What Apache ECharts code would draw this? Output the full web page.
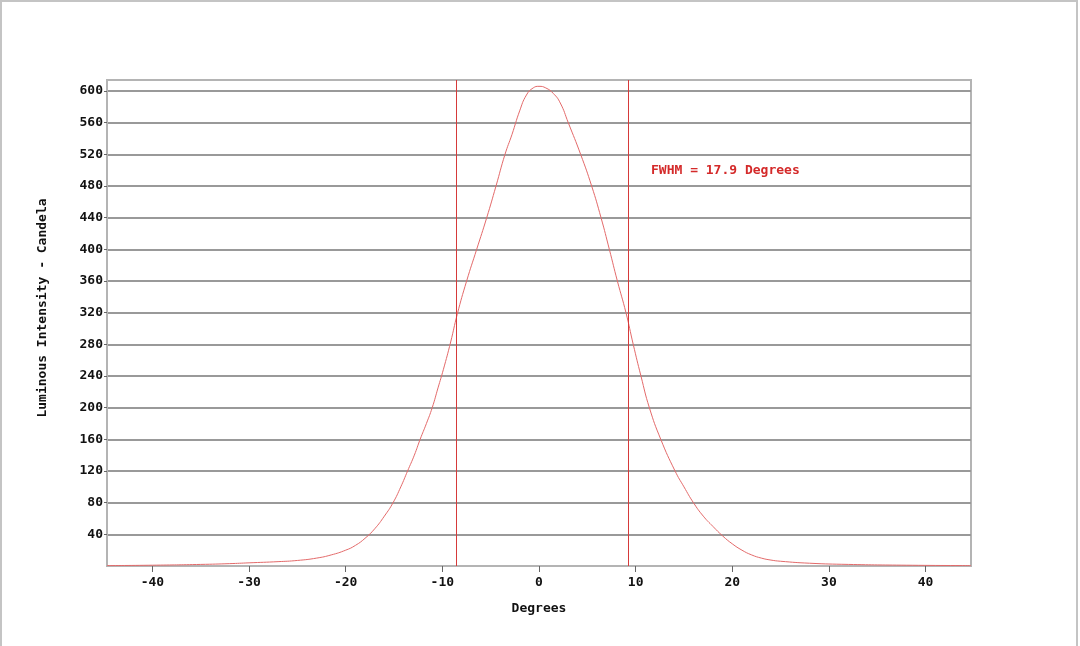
<!DOCTYPE html>
<html>
<head>
<meta charset="utf-8">
<script src="https://cdn.jsdelivr.net/npm/echarts@6/dist/echarts.min.js"></script>
<style>
html,body{margin:0;padding:0;background:#fff;}
#chart{width:1080px;height:646px;}
</style>
</head>
<body>
<div id="chart"></div>
<script>
// Degrees (x) and luminous intensity in candela (y)
const degrees = [-44.7,-40,-35,-32,-30,-27,-25,-23,-21.5,-20,-19,-18,-17,-16,-15.1,-14.3,-13.6,-12.9,-12.3,-11.65,-11.05,-10.45,-9.9,-9.14,-8.46,-7.49,-6.45,-5.41,-4.45,-3.52,-2.8,-2.0,-1.3,-0.6,0,0.7,1.48,2.2,3.03,4.31,5.45,6.42,7.28,8.11,9.0,9.75,10.55,11.42,12.6,14.08,15.0,15.98,17,18,19,20,21,22,23,24,25,28,32,38,44.7];
const candela = [0.5,1,2,3,4,5.5,7,10,14,20,26,35,47,63,80,100,120,140,160,180,200,225,248,283,318,360,400,440,480,520,545,575,595,604,606,604,597,585,560,520,480,440,400,360,320,280,240,200,160,120,100,80,63,50,38,28,20,14,10,7.5,6,3.5,2,1,0.5];
const fwhmLines = [-8.52, 9.28];
const yTop = 614;
const xTicks = [-40,-30,-20,-10,0,10,20,30,40];
const yTicks = [40,80,120,160,200,240,280,320,360,400,440,480,520,560,600];
const fwhmText = 'FWHM = 17.9 Degrees';
const xName = 'Degrees';
const yName = 'Luminous Intensity - Candela';

const font = 'DejaVu Sans Mono';
const red = '#d63a3a';
const chart = echarts.init(document.getElementById('chart'), null, {renderer:'canvas'});
chart.setOption({
  animation: false,
  backgroundColor: '#fff',
  grid: {left:107, right:109, top:80, bottom:80, show:true, borderColor:'#b4b4b4', borderWidth:2, backgroundColor:'#fff'},
  graphic: [
    {type:'rect', shape:{x:1,y:1,width:1076,height:700}, style:{fill:'none', stroke:'#c4c4c4', lineWidth:2}, silent:true},
    {type:'text', left:651, top:164, style:{text:fwhmText, fill:'#d42a2a', font:'bold 13px "DejaVu Sans Mono"'}}
  ],
  xAxis: {
    type:'value', min:-44.7, max:44.7,
    name:xName, nameLocation:'middle', nameGap:36,
    nameTextStyle:{color:'#111', fontFamily:font, fontWeight:'bold', fontSize:13},
    axisLine:{show:true, onZero:false, lineStyle:{color:'#b4b4b4', width:2}},
    axisTick:{show:true, length:6, customValues:xTicks, lineStyle:{color:'#666'}},
    axisLabel:{customValues:xTicks, margin:10, color:'#111', fontFamily:font, fontWeight:'bold', fontSize:13},
    splitLine:{show:false}
  },
  yAxis: {
    type:'value', min:0, max:yTop, interval:40,
    name:yName, nameLocation:'middle', nameGap:58,
    nameTextStyle:{color:'#111', fontFamily:font, fontWeight:'bold', fontSize:13, padding:[0,0,0,30]},
    axisLine:{show:true, onZero:false, lineStyle:{color:'#b4b4b4', width:2}},
    axisTick:{show:true, length:3, customValues:yTicks, lineStyle:{color:'#666'}},
    axisLabel:{customValues:yTicks, margin:4, color:'#111', fontFamily:font, fontWeight:'bold', fontSize:13},
    splitLine:{show:true, lineStyle:{color:'#999', width:2}}
  },
  series: [{
    type:'line',
    data: degrees.map((d,i)=>[d, candela[i]]),
    smooth:0.5,
    showSymbol:false,
    color:'#e36a6a',
    lineStyle:{color:'#e36a6a', width:1},
    z:3
  }, {
    type:'lines',
    coordinateSystem:'cartesian2d',
    silent:true,
    z:4,
    lineStyle:{color:red, width:1, opacity:1},
    data: fwhmLines.map(v => ({coords:[[v,0],[v,yTop]]}))
  }]
});
</script>
</body>
</html>
